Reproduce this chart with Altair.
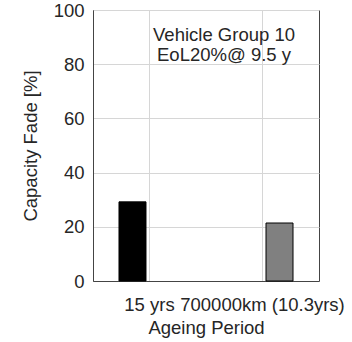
import altair as alt
import pandas as pd

# Ageing periods on the x axis and capacity fade per scenario (%)
periods = ["15 yrs", "700000km (10.3yrs)"]
calendar_fade = [29.2, 0.0]
mileage_fade = [0.0, 21.4]
scenarios = ["Calendar", "Mileage"]
scenario_colors = ["#000000", "#808080"]

annotation_lines = ["Vehicle Group 10", "EoL20%@ 9.5 y"]
y_ticks = [0, 20, 40, 60, 80, 100]

rows = []
for i, p in enumerate(periods):
    rows.append({"period": p, "scenario": scenarios[0], "fade": calendar_fade[i]})
    rows.append({"period": p, "scenario": scenarios[1], "fade": mileage_fade[i]})
df = pd.DataFrame(rows)

FONT = "Liberation Sans"
TEXT = "#262626"
GRID = "#d6d6d6"

x_enc = alt.X(
    "period:N",
    sort=periods,
    scale=alt.Scale(domain=periods, paddingInner=0, paddingOuter=0),
    axis=alt.Axis(
        title="Ageing Period",
        labelAngle=0,
        ticks=False,
        grid=False,
        labelPadding=14,
        titlePadding=5,
    ),
)

# vertical grid lines through the centre of each ageing period
vgrid = alt.Chart(pd.DataFrame({"period": periods})).mark_rule(
    color=GRID, strokeWidth=1
).encode(x=x_enc, y=alt.value(0), y2=alt.value(271))

bars = alt.Chart(df).transform_filter(alt.datum.fade > 0).mark_bar(
    stroke="#000000", strokeWidth=1
).encode(
    x=x_enc,
    xOffset=alt.XOffset(
        "scenario:N",
        sort=scenarios,
        scale=alt.Scale(domain=scenarios, paddingInner=0.206, paddingOuter=0.764),
    ),
    y=alt.Y(
        "fade:Q",
        scale=alt.Scale(domain=[0, 100], nice=False),
        axis=alt.Axis(
            title="Capacity Fade [%]",
            values=y_ticks,
            ticks=False,
            grid=True,
            labelPadding=9,
            titlePadding=13,
        ),
    ),
    color=alt.Color(
        "scenario:N",
        sort=scenarios,
        scale=alt.Scale(domain=scenarios, range=scenario_colors),
        legend=None,
    ),
)

note_df = pd.DataFrame({"line": [annotation_lines]})
note = alt.Chart(note_df).mark_text(
    font=FONT, fontSize=18.5, color=TEXT, align="center", baseline="top", lineHeight=20
).encode(
    text="line",
    x=alt.value(131),
    y=alt.value(16),
)

chart = (
    alt.layer(vgrid, bars, note)
    .properties(
        width=226,
        height=271,
        autosize=alt.AutoSizeParams(type="none"),
        padding={"left": 93, "top": 10, "right": 33, "bottom": 61},
        background="white",
    )
    .configure_view(stroke="#444444", strokeWidth=1)
    .configure_axis(
        labelFont=FONT,
        titleFont=FONT,
        labelFontSize=18.5,
        titleFontSize=18.5,
        labelColor=TEXT,
        titleColor=TEXT,
        titleFontWeight="normal",
        domainColor="#444444",
        gridColor=GRID,
        gridWidth=1,
    )
)

chart.save("out.html", embed_options={"renderer": "svg", "actions": False})
